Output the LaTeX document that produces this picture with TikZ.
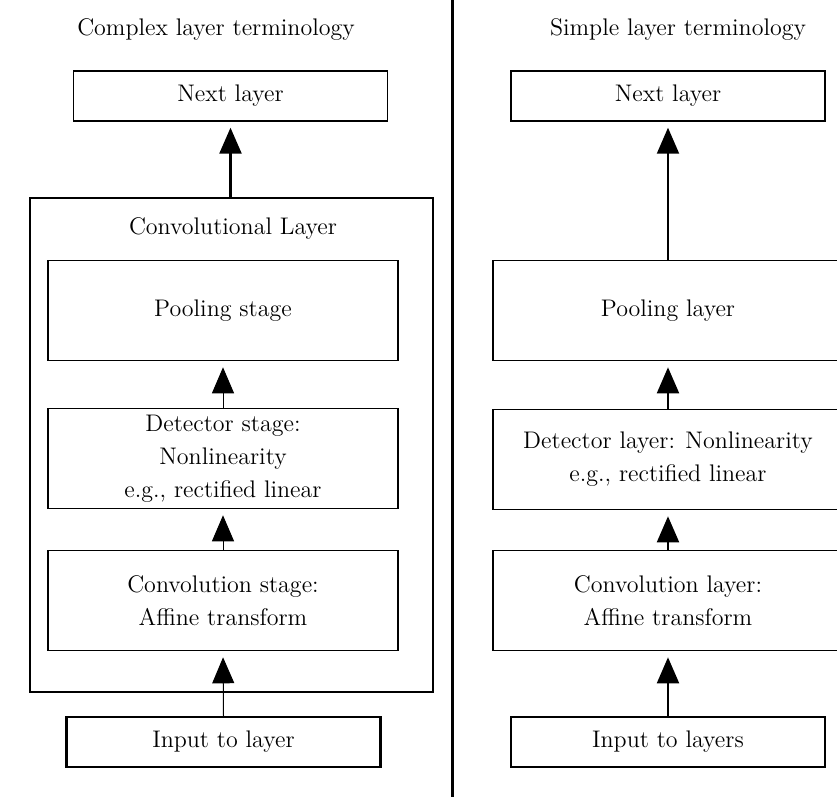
\documentclass[tikz,border=0pt]{standalone}
\usepackage{amsmath}
\usepackage{tikz}
\usetikzlibrary{positioning, arrows.meta}

\begin{document}
\begin{tikzpicture}[x=0.5pt, y=-0.5pt,
        every node/.style={font=\fontsize{12}{16.5}\selectfont, align=center},
        box/.style={draw, line width=0.8pt, minimum width=175pt, minimum height=50pt, inner sep=0pt},
        thinbox/.style={draw, line width=0.7pt, minimum width=157pt, minimum height=25pt, inner sep=0pt},
        inbox/.style={draw, line width=1.2pt, minimum width=157pt, minimum height=25pt, inner sep=0pt},
        up/.style={-{Triangle[width=11pt, length=13pt]}, shorten >=3pt}]
        \useasboundingbox (0,0) rectangle (837,797);
        \clip (0,0) rectangle (837,797);
        % left column
        \node (TL) at (216,30) {Complex layer terminology};
        \node[thinbox] (NL) at (230.5,96) {Next layer};
        \node[draw, line width=1.3pt, minimum width=201.5pt, minimum height=247pt] (CL) at (231.5,445) {};
        \node (CLt) at (233,229) {Convolutional Layer};
        \node[box] (PS) at (223,310.5) {Pooling stage};
        \node[box] (DS) at (223,458.5) {Detector stage:\\Nonlinearity\\e.g., rectified linear};
        \node[box] (CS) at (223,600.5) {Convolution stage:\\Affine transform};
        \node[inbox] (IL) at (223.5,742) {Input to layer};
        \draw [up, line width=1.2pt] (CL.north -| NL.south) -- (NL.south);
        \foreach \a/\b in {DS/PS, CS/DS, IL/CS}
            \draw [up, line width=0.5pt] (\a.north) -- (\b.south);
        % divider
        \draw [line width=1.5pt] (452,0) -- (452,797);
        % right column
        \node (TR) at (678,30) {Simple layer terminology};
        \node[thinbox] (NR) at (668,96) {Next layer};
        \node[box] (PR) at (668,310.5) {Pooling layer};
        \node[box] (DR) at (668,459.5) {Detector layer: Nonlinearity\\e.g., rectified linear};
        \node[box] (CR) at (668,600.5) {Convolution layer:\\Affine transform};
        \node[inbox] (IR) at (668,742) {Input to layers};
        \foreach \a/\b in {PR/NR, DR/PR, CR/DR, IR/CR}
            \draw [up, line width=1pt] (\a.north) -- (\b.south);
\end{tikzpicture}
\end{document}
